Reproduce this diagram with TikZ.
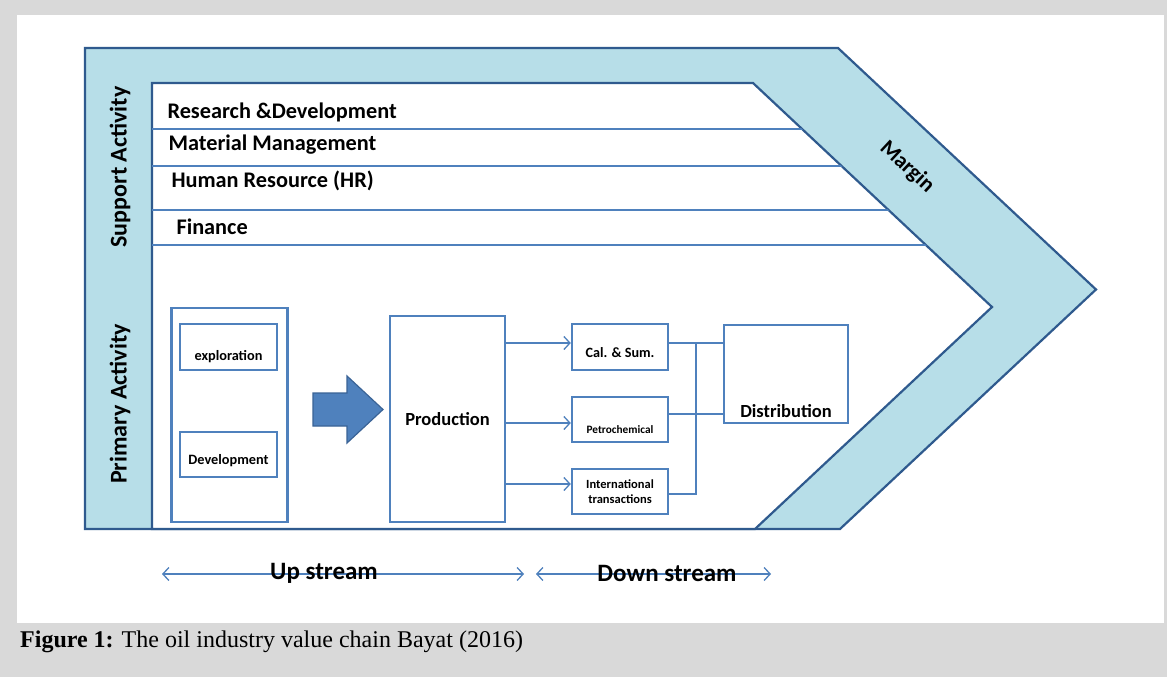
\documentclass[tikz,border=0pt]{standalone}
\usepackage{fontspec}
\setmainfont{Carlito}
\newfontfamily\capfont{Liberation Serif}
\usetikzlibrary{arrows.meta}
\definecolor{bandfill}{HTML}{B7DEE8}
\definecolor{bandline}{HTML}{2F5A8E}
\definecolor{boxline}{HTML}{4F81BD}
\definecolor{arrowline}{HTML}{3A6396}
\definecolor{pagegray}{HTML}{D9D9D9}

\begin{document}
\begin{tikzpicture}[x=1pt,y=-1pt,
    box/.style={draw=boxline, line width=2.4pt, fill=white, inner sep=0pt, font=\bfseries},
    link/.style={draw=boxline, line width=1.3pt},
    flow/.style={link, -{Straight Barb[length=6pt,width=13pt]}},
    span/.style={link, {Straight Barb[length=6pt,width=13pt]}-{Straight Barb[length=6pt,width=13pt]}}]
    \useasboundingbox (0,0) rectangle (1167,677);
    \fill[pagegray] (0,0) rectangle (1167,677);
    \fill[white] (17,15) rectangle (1164,623);

    % value chain frame
    \draw[bandline, line width=2.2pt, fill=bandfill] (85,48) -- (838,48) -- (1096,289.5) -- (840,529) -- (85,529) -- cycle;
    \draw[bandline, line width=2.2pt, fill=white] (152,83) -- (753,83) -- (992,307) -- (755,529) -- (152,529) -- cycle;
    \begin{scope}
        \clip (152,83) -- (753,83) -- (992,307) -- (755,529) -- (152,529) -- cycle;
        \foreach \y in {129,166,210,245}
            \draw[boxline, line width=1.2pt] (152,\y) -- (1000,\y);
    \end{scope}

    \node [font=\bfseries\fontsize{22.3}{26}\selectfont, anchor=west] (RD) at (164,112) {Research \&Development};
    \node [font=\bfseries\fontsize{22.3}{26}\selectfont, anchor=west] (MM) at (165,145) {Material Management};
    \node [font=\bfseries\fontsize{22.3}{26}\selectfont, anchor=west] (HR) at (168,181) {Human Resource (HR)};
    \node [font=\bfseries\fontsize{22.3}{26}\selectfont, anchor=west] (FI) at (173,227) {Finance};

    \node [font=\bfseries\fontsize{24}{28}\selectfont, rotate=90] (SA) at (120,167) {Support Activity};
    \node [font=\bfseries\fontsize{24}{28}\selectfont, rotate=90] (PA) at (120,404) {Primary Activity};
    \node [font=\bfseries\fontsize{22}{26}\selectfont, rotate=-43] (MG) at (907,167) {Margin};

    % up stream
    \node [box, minimum width=116pt, minimum height=214pt] (UP) at (229.5,415) {};
    \node [box, minimum width=97pt, minimum height=46pt, font=\bfseries\fontsize{14.3}{17}\selectfont] (EX) at (228.5,347) {\raisebox{-13.5pt}[0pt][0pt]{exploration}};
    \node [box, minimum width=97pt, minimum height=45pt, font=\bfseries\fontsize{14.3}{17}\selectfont] (DV) at (228.5,454.5) {\raisebox{-10pt}[0pt][0pt]{Development}};
    \draw[arrowline, line width=1.2pt, fill=boxline] (313,393) -- (347,393) -- (347,376) -- (383,409.5) -- (347,443) -- (347,426) -- (313,426) -- cycle;
    \node [box, minimum width=115pt, minimum height=206pt, font=\bfseries\fontsize{18.5}{22}\selectfont] (PR) at (447.5,419) {Production};

    % down stream
    \node [box, minimum width=96pt, minimum height=46pt, font=\bfseries\fontsize{14.2}{17}\selectfont] (CS) at (620,347) {\raisebox{-10.5pt}[0pt][0pt]{Cal. \& Sum.}};
    \node [box, minimum width=96pt, minimum height=45pt, font=\bfseries\fontsize{11.3}{13}\selectfont] (PC) at (620,419.5) {\raisebox{-14pt}[0pt][0pt]{Petrochemical}};
    \node [box, minimum width=96pt, minimum height=45pt, align=center, font=\bfseries\fontsize{12.5}{14.5}\selectfont] (IT) at (620,491.5) {International\\transactions};
    \node [box, minimum width=124pt, minimum height=98pt, font=\bfseries\fontsize{18.5}{22}\selectfont] (DI) at (786,374) {\raisebox{-43pt}[0pt][0pt]{Distribution}};

    \draw[flow] ([yshift=4pt]CS.west -| PR.east) -- ([yshift=4pt]CS.west);
    \draw[flow] ([yshift=-3.5pt]PC.west -| PR.east) -- ([yshift=-3.5pt]PC.west);
    \draw[flow] ([yshift=7.5pt]IT.west -| PR.east) -- ([yshift=7.5pt]IT.west);

    \coordinate (bus) at (696,343);
    \draw[link] ([yshift=4pt]CS.east) -- ([yshift=4pt]CS.east -| DI.west);
    \draw[link] ([yshift=5.5pt]PC.east) -- ([yshift=5.5pt]PC.east -| DI.west);
    \draw[link] ([yshift=-2.5pt]IT.east) -| (bus);

    % streams
    \coordinate (us1) at (162,574); \coordinate (us2) at (524,574);
    \coordinate (ds1) at (536,574); \coordinate (ds2) at (771,574);
    \draw[span] (us1) -- (us2);
    \draw[span] (ds1) -- (ds2);
    \node [font=\bfseries\fontsize{25}{29}\selectfont] (US) at (324,573) {Up stream};
    \node [font=\bfseries\fontsize{25}{29}\selectfont] (DS) at (667,573) {Down stream};

    \node [anchor=base west, inner sep=0pt, font=\capfont\fontsize{24}{28}\selectfont] (CAP) at (20,647) {\textbf{Figure 1:} The oil industry value chain Bayat (2016)};
\end{tikzpicture}
\end{document}
